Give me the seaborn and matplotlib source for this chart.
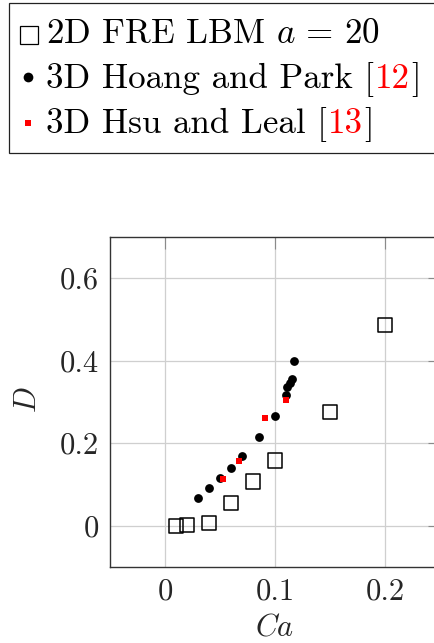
import matplotlib
matplotlib.use("Agg")
import numpy as np
import pandas as pd
import seaborn as sns
import matplotlib.pyplot as plt
from matplotlib.lines import Line2D
from matplotlib.patches import Rectangle

# ---- data ----
ca_lbm = [0.01, 0.02, 0.04, 0.06, 0.08, 0.10, 0.15, 0.20]
d_lbm = [0.000, 0.002, 0.006, 0.055, 0.107, 0.158, 0.276, 0.487]

ca_hp = [0.030, 0.040, 0.050, 0.060, 0.070, 0.085, 0.100, 0.110, 0.1112, 0.1132, 0.1152, 0.1175]
d_hp = [0.068, 0.091, 0.116, 0.141, 0.169, 0.214, 0.267, 0.318, 0.336, 0.346, 0.356, 0.399]

ca_hl = [0.053, 0.067, 0.091, 0.110]
d_hl = [0.114, 0.158, 0.261, 0.304]

x_ticks = [0, 0.1, 0.2]
x_ticklabels = ["0", "0.1", "0.2"]
y_ticks = [0, 0.2, 0.4, 0.6]
y_ticklabels = ["0", "0.2", "0.4", "0.6"]

legend_rows = [
    [("2D FRE LBM $a\\,=\\,20$", "black")],
    [("3D Hoang and Park [", "black"), ("12", "red"), ("]", "black")],
    [("3D Hsu and Leal [", "black"), ("13", "red"), ("]", "black")],
]

# ---- style ----
sns.set_style("white")
plt.rcParams["font.family"] = ["cmr10", "DejaVu Serif"]
plt.rcParams["mathtext.fontset"] = "cm"
plt.rcParams["axes.formatter.use_mathtext"] = True
plt.rcParams["axes.unicode_minus"] = False

W, H = 434, 643
fig = plt.figure(figsize=(W / 100, H / 100), dpi=100)
ax = fig.add_axes([110 / W, 1 - 567 / H, 330 / W, 330 / H])

df_lbm = pd.DataFrame({"Ca": ca_lbm, "D": d_lbm})
df_hp = pd.DataFrame({"Ca": ca_hp, "D": d_hp})
df_hl = pd.DataFrame({"Ca": ca_hl, "D": d_hl})

sns.scatterplot(data=df_lbm, x="Ca", y="D", ax=ax, marker="s", s=105,
                color="black", edgecolor="black", linewidth=1.1, zorder=3)
ax.collections[-1].set_facecolor("none")
sns.scatterplot(data=df_hp, x="Ca", y="D", ax=ax, marker="o", s=40,
                color="black", edgecolor="black", linewidth=0, zorder=4)
sns.scatterplot(data=df_hl, x="Ca", y="D", ax=ax, marker="s", s=15,
                color="red", edgecolor="red", linewidth=0, zorder=5)

ax.set_xlim(-0.05, 0.25)
ax.set_ylim(-0.1, 0.7)
ax.set_xticks(x_ticks)
ax.set_xticklabels(x_ticklabels)
ax.set_yticks(y_ticks)
ax.set_yticklabels(y_ticklabels)
ax.set_axisbelow(True)
ax.grid(True, color="#cfcfcf", linewidth=0.9)
ax.tick_params(direction="in", length=8.5, width=0.8, color="#8a8a8a",
               labelsize=22, pad=8, top=True, right=True)
for sp in ax.spines.values():
    sp.set_color("#333333")
    sp.set_linewidth(1.0)

ax.set_xlabel("$Ca$", fontsize=22)
ax.set_ylabel("$D$", fontsize=22)
ax.xaxis.label.set_va("center")
ax.yaxis.label.set_va("center")
ax.xaxis.set_label_coords((275 - 110) / 330, (567 - 628) / 330)
ax.yaxis.set_label_coords((28 - 110) / 330, (567 - 400) / 330)

# ---- legend box (drawn in figure pixels) ----
fig.add_artist(Rectangle((9 / W, 1 - 153 / H), (460 - 9) / W, 150 / H,
                         transform=fig.transFigure, facecolor="white",
                         edgecolor="#222222", linewidth=0.9, zorder=1))

marker_specs = [
    dict(marker="s", ms=13.5, mfc="none", mec="black", mew=0.9),
    dict(marker="o", ms=7.0, mfc="black", mec="black", mew=0),
    dict(marker="s", ms=4.2, mfc="red", mec="red", mew=0),
]
marker_centers = [(29, 35), (28.5, 77), (28.5, 123)]
baselines = [42.7, 87.7, 133.0]
text_x0 = 46.0
legend_size = 25.2

renderer = fig.canvas.get_renderer()
for spec, (mx, my), base, pieces in zip(marker_specs, marker_centers, baselines, legend_rows):
    fig.add_artist(Line2D([mx / W], [1 - my / H], transform=fig.transFigure,
                          linestyle="none", zorder=3, **spec))
    x = text_x0
    for i, (s, c) in enumerate(pieces):
        t = fig.text(x / W, 1 - base / H, s, color=c, fontsize=legend_size,
                     ha="left", va="baseline", zorder=3)
        bb = t.get_window_extent(renderer)
        x = bb.x1 + 1.0

fig.savefig("out.png", dpi=100)
